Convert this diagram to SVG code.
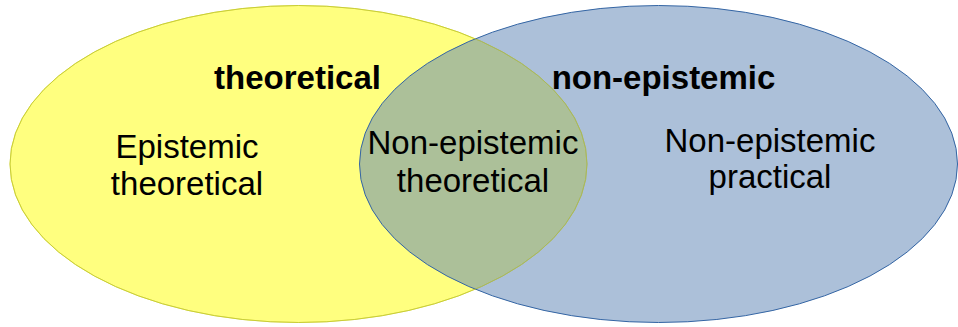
<svg xmlns="http://www.w3.org/2000/svg" width="958" height="327" viewBox="0 0 958 327">
<style>
.lbl{font-family:"Liberation Sans",Arial,sans-serif;font-size:33px;fill:#000;text-anchor:middle}
.hd{font-weight:bold}
</style>
<rect width="958" height="327" fill="#fff"/>
<g id="set-theoretical">
<ellipse cx="298.5" cy="164" rx="288.5" ry="158.5" fill="#ffff7f" stroke="#e0e030" stroke-width="1"/>
</g>
<g id="set-non-epistemic">
<ellipse cx="658.5" cy="164" rx="299" ry="158.5" fill="#5982b4" fill-opacity="0.5" stroke="#3465a4" stroke-width="1"/>
</g>
<g id="yellow-outline-over">
<ellipse cx="298.5" cy="164" rx="288.5" ry="158.5" fill="none" stroke="#b8c040" stroke-opacity="0.6" stroke-width="1"/>
</g>
<g id="labels">
<text class="lbl hd" x="297.5" y="89">theoretical</text>
<text class="lbl hd" x="663.5" y="89">non-epistemic</text>
<text class="lbl" x="187" y="158">Epistemic</text>
<text class="lbl" x="187" y="195">theoretical</text>
<text class="lbl" x="473" y="154">Non-epistemic</text>
<text class="lbl" x="473" y="191.5">theoretical</text>
<text class="lbl" x="770" y="151.5">Non-epistemic</text>
<text class="lbl" x="770" y="188">practical</text>
</g>
</svg>
